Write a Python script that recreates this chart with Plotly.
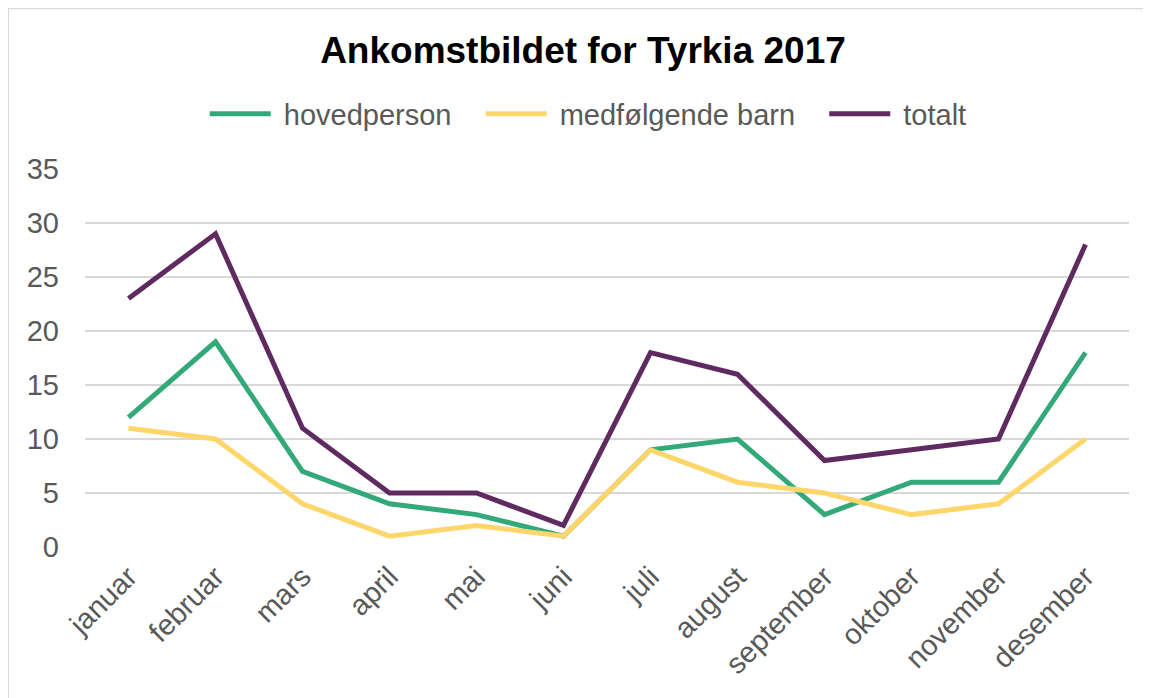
import plotly.graph_objects as go

# Ankomster fra Tyrkia per måned, 2017
months = ["januar", "februar", "mars", "april", "mai", "juni", "juli",
          "august", "september", "oktober", "november", "desember"]
hovedperson = [12, 19, 7, 4, 3, 1, 9, 10, 3, 6, 6, 18]
medfolgende_barn = [11, 10, 4, 1, 2, 1, 9, 6, 5, 3, 4, 10]
totalt = [23, 29, 11, 5, 5, 2, 18, 16, 8, 9, 10, 28]

series = [
    ("hovedperson", hovedperson, "#33a878"),
    ("medfølgende barn", medfolgende_barn, "#ffd66b"),
    ("totalt", totalt, "#5e2a60"),
]

FONT = "Liberation Sans, Arial, sans-serif"
GREY = "#595959"
NBSP = "\u00a0"

fig = go.Figure()
for name, values, color in series:
    fig.add_trace(go.Scatter(
        x=months, y=values, mode="lines",
        # pad legend labels a little, like the spacing in the original
        name=NBSP + name + NBSP * 3,
        line=dict(color=color, width=5),
    ))

fig.update_layout(
    width=1151, height=698,
    margin=dict(l=77, r=30, t=161, b=159),
    paper_bgcolor="white", plot_bgcolor="white",
    font=dict(family=FONT, color=GREY),
    title=dict(
        text="<b>Ankomstbildet for Tyrkia 2017</b>",
        x=0.477, xref="paper", xanchor="center",
        y=0.94, yref="container", yanchor="middle",
        font=dict(size=37, color="black", family=FONT),
    ),
    legend=dict(
        orientation="h", x=0.4935, xanchor="center", y=1.1455, yanchor="middle",
        font=dict(size=29, color=GREY), itemwidth=61,
        traceorder="normal",
    ),
    xaxis=dict(
        type="category", tickangle=-45, range=[-0.5, 11.5],
        showgrid=False, showline=False, ticks="",
        tickfont=dict(size=29, color=GREY), ticklabelstandoff=6,
    ),
    yaxis=dict(
        range=[0, 35], dtick=5, showgrid=True, gridcolor="#d9d9d9", gridwidth=1.5,
        zeroline=False, showline=False, ticks="",
        tickfont=dict(size=29, color=GREY), ticklabelstandoff=25,
    ),
    shapes=[dict(
        type="rect", xref="paper", yref="paper",
        x0=-0.0735, x1=1.04, y0=-0.43, y1=1.4245,
        line=dict(color="#d9d9d9", width=1.5), fillcolor="rgba(0,0,0,0)",
        layer="below",
    )],
)

fig.write_html("out.html")
